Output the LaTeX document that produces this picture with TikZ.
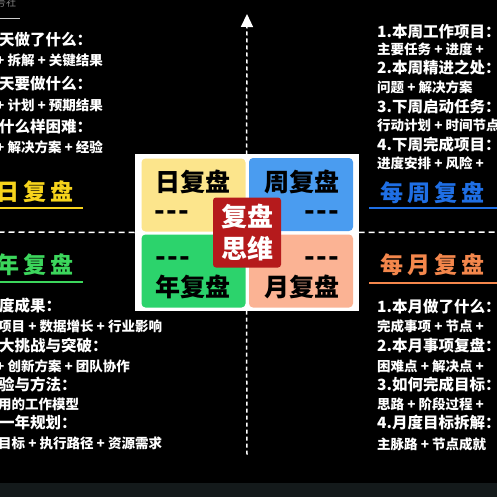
\documentclass[tikz,border=0pt]{standalone}
\usepackage{fontspec}
\setmainfont{Noto Sans CJK SC}
\usetikzlibrary{arrows.meta,positioning}
\definecolor{dayY}{HTML}{FCE58C}
\definecolor{weekB}{HTML}{4A9CF0}
\definecolor{yearG}{HTML}{2CD36C}
\definecolor{monthS}{HTML}{FBB394}
\definecolor{coreR}{HTML}{B51A1C}
\definecolor{titleY}{HTML}{F6D31C}
\definecolor{titleG}{HTML}{3CD65C}
\definecolor{titleB}{HTML}{1F6FE5}
\definecolor{titleO}{HTML}{F4874C}
\definecolor{strip}{HTML}{141A1B}
\newcommand{\tridash}{{-}\kern1pt{-}\kern1pt{-}}

\begin{document}
\begin{tikzpicture}[x=1pt,y=-1pt,>=Triangle,
  head/.style={anchor=west,inner sep=0pt,text=white,font=\bfseries\fontsize{15.5}{15.5}\selectfont},
  sub/.style={head,font=\bfseries\fontsize{13.5}{13.5}\selectfont},
  title/.style={anchor=west,inner sep=0pt,font=\bfseries\fontsize{23}{23}\selectfont},
  quad/.style={rounded corners=4pt,inner sep=0pt,minimum width=104pt,minimum height=73pt},
  qtext/.style={inner sep=0pt,font=\bfseries\fontsize{25}{25}\selectfont},
  qdash/.style={inner sep=0pt,anchor=base,text height=11pt,text depth=0pt,font=\bfseries\fontsize{28}{28}\selectfont},
  dashline/.style={white,line width=1.5pt,dash pattern=on 6pt off 4pt}]
 \useasboundingbox (0,0) rectangle (497,497);
 \clip (0,0) rectangle (497,497);
 \fill[black] (0,0) rectangle (497,497);
 \fill[strip] (0,483) rectangle (497,497);
 \node[text=gray,inner sep=0pt,font=\fontsize{10}{10}\selectfont,anchor=west] (brand) at (-4,3) {号社};
 \draw[gray!40,line width=0.8pt] (0,18) -- (20,18);

 \node[draw=white,fill=white,line width=1pt,minimum width=223pt,minimum height=155pt,inner sep=0pt] (board) at (246.5,232.5) {};
 \node[quad,fill=dayY] (day) at (193.5,195) {};
 \node[quad,fill=weekB] (week) at (301,194.5) {};
 \node[quad,fill=yearG] (year) at (193.5,271) {};
 \node[quad,fill=monthS] (month) at (301,271) {};
 \node[rounded corners=3pt,fill=coreR,minimum width=68pt,minimum height=70pt,inner sep=0pt,text=white,align=center,
   font=\bfseries\fontsize{26}{32}\selectfont] (core) at (247,232.5) {复盘\\思维};

 \node[qtext] (dayT) at (193,182) {日复盘};
 \node[qdash] (dayD) at (172,220) {\tridash};
 \node[qtext] (weekT) at (302,182) {周复盘};
 \node[qdash] (weekD) at (322,220) {\tridash};
 \node[qdash] (yearD) at (173,266) {\tridash};
 \node[qtext] (yearT) at (193,287) {年复盘};
 \node[qdash] (monthD) at (322,266) {\tridash};
 \node[qtext] (monthT) at (302,287) {月复盘};

 \coordinate (top) at (247,14);
 \coordinate (bottom) at (247,455);
 \coordinate (left) at (0,232);
 \coordinate (right) at (497,232);
 \draw[dashline,dash pattern=on 4pt off 3pt,-{Triangle[length=13pt,width=12pt]}] (board.north) -- (top);
 \draw[dashline,dash pattern=on 4pt off 3pt] (board.south) -- (bottom);
 \draw[dashline] (board.west) -- (left);
 \draw[dashline] (board.east) -- (right);

 \node[head] (d1) at (-1,40) {天做了什么：};
 \node[sub] (d1s) at (-4,60) {+\ 拆解\ +\ 关键结果};
 \node[head] (d2) at (-1,84) {天要做什么：};
 \node[sub] (d2s) at (-4,105) {+\ 计划\ +\ 预期结果};
 \node[head] (d3) at (-1,127) {什么样困难：};
 \node[sub] (d3s) at (-4,147) {+\ 解决方案\ +\ 经验};
 \node[title,text=titleY] (dayTitle) at (-4,192) {日\hspace{4pt}复\hspace{4pt}盘};
 \draw[titleY,line width=1.2pt] (0,208) -- (83,208);
 \node[title,text=titleG] (yearTitle) at (-4,265) {年\hspace{4pt}复\hspace{4pt}盘};
 \draw[titleG,line width=1.2pt] (0,282) -- (83,282);
 \node[head] (y1) at (-1,306) {度成果：};
 \node[sub] (y1s) at (-2,326) {项目\ +\ 数据增长\ +\ 行业影响};
 \node[head] (y2) at (-1,346) {大挑战与突破：};
 \node[sub] (y2s) at (-4,366) {+\ 创新方案\ +\ 团队协作};
 \node[head] (y3) at (-1,385) {验与方法：};
 \node[sub] (y3s) at (-2,404) {用的工作模型};
 \node[head] (y4) at (-1,423) {一年规划：};
 \node[sub] (y4s) at (-2,443) {目标\ +\ 执行路径\ +\ 资源需求};

 \node[head] (w1) at (377,32) {1.本周工作项目：};
 \node[sub] (w1s) at (377,49) {主要任务\ +\ 进度\ +};
 \node[head] (w2) at (377,68) {2.本周精进之处：};
 \node[sub] (w2s) at (377,87) {问题\ +\ 解决方案};
 \node[head] (w3) at (377,107) {3.下周启动任务：};
 \node[sub] (w3s) at (377,125) {行动计划\ +\ 时间节点};
 \node[head] (w4) at (377,145) {4.下周完成项目：};
 \node[sub] (w4s) at (377,163) {进度安排\ +\ 风险\ +};
 \node[title,text=titleB] (weekTitle) at (380,193) {每\hspace{4pt}周\hspace{4pt}复\hspace{4pt}盘};
 \draw[titleB,line width=1.2pt] (369,208) -- (497,208);
 \node[title,text=titleO] (monthTitle) at (380,265) {每\hspace{4pt}月\hspace{4pt}复\hspace{4pt}盘};
 \draw[titleO,line width=1.2pt] (369,283) -- (497,283);
 \node[head] (m1) at (377,307) {1.本月做了什么：};
 \node[sub] (m1s) at (377,326) {完成事项\ +\ 节点\ +};
 \node[head] (m2) at (377,346) {2.本月事项复盘：};
 \node[sub] (m2s) at (377,366) {困难点\ +\ 解决点\ +};
 \node[head] (m3) at (377,385) {3.如何完成目标：};
 \node[sub] (m3s) at (377,404) {思路\ +\ 阶段过程\ +};
 \node[head] (m4) at (377,423) {4.月度目标拆解：};
 \node[sub] (m4s) at (377,444) {主脉路\ +\ 节点成就};
\end{tikzpicture}
\end{document}
